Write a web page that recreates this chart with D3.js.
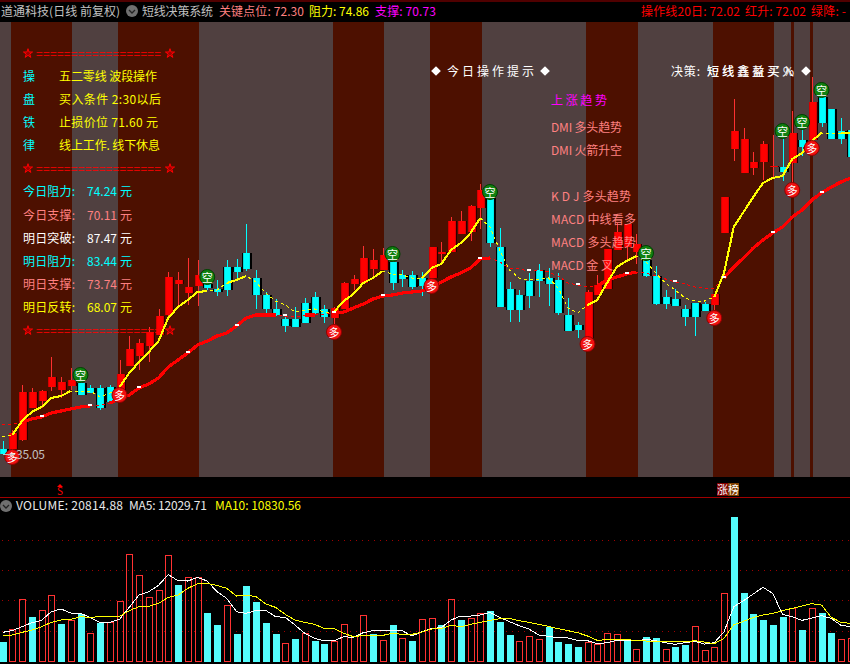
<!DOCTYPE html>
<html><head><meta charset="utf-8">
<script src="https://cdn.jsdelivr.net/npm/d3@7/dist/d3.min.js"></script>
<style>
html,body{margin:0;padding:0;background:#000;overflow:hidden}
svg{display:block}
text{font-family:"Noto Sans CJK SC","DejaVu Sans",sans-serif;font-size:12px;dominant-baseline:central;text-rendering:optimizeSpeed}
</style></head><body><div id="c"></div>
<script>
// ---------- price data (one entry per trading day) ----------
const opens=[35.6,35.6,36.5,39.7,40.4,41.8,41.5,41.9,42.2,41.7,41.7,41.8,41.2,43.9,44.9,45.9,47.0,49.0,52.1,51.2,51.9,52.1,51.6,53.8,53.8,55.2,52.7,51.0,49.6,48.6,48.6,50.2,50.8,49.6,48.7,49.6,52.1,52.2,53.6,53.5,54.3,53.0,53.0,52.7,52.7,55.1,55.3,57.1,57.3,59.7,60.7,55.8,51.6,51.0,52.4,53.5,52.7,52.5,49.0,48.0,46.7,51.0,51.6,55.5,55.8,55.3,54.5,52.9,50.8,50.6,49.6,50.2,50.1,50.0,57.2,65.6,63.2,63.7,64.3,63.8,63.8,64.2,66.5,66.5,70.8,69.6,67.4,67.5];
const highs=[36.4,37.5,42.0,41.7,41.5,44.8,42.8,43.7,42.9,42.0,42.0,42.0,44.5,46.9,46.6,47.8,49.6,53.3,53.3,54.7,54.5,53.5,52.5,54.5,54.6,58.1,53.5,51.3,50.6,49.0,49.8,50.7,51.3,50.0,49.8,52.3,53.0,55.9,55.6,55.7,55.7,53.5,53.4,53.3,55.8,56.3,58.8,59.4,60.0,62.1,62.0,57.7,52.3,51.5,53.2,54.1,53.7,53.2,50.7,48.3,51.5,53.0,55.6,58.2,58.1,57.1,55.3,53.9,51.5,51.6,50.0,50.2,50.3,51.1,60.8,70.6,67.7,65.3,66.4,67.0,68.0,69.4,68.5,72.8,71.5,69.6,68.7,67.5];
const lows=[35.0,35.4,36.4,39.7,39.7,41.4,40.7,41.5,41.0,41.2,39.5,40.2,40.4,43.9,43.5,44.3,47.0,48.9,50.0,50.0,49.9,51.5,50.9,50.9,52.5,53.4,49.6,49.0,48.9,47.3,47.8,48.2,49.0,48.2,48.1,49.6,51.5,52.2,52.7,53.5,51.5,51.8,51.6,50.9,52.7,54.0,55.3,57.1,56.4,57.6,55.8,49.8,48.3,48.3,49.7,50.8,49.9,49.0,47.4,46.7,46.3,51.0,51.6,55.5,54.5,54.1,52.8,50.0,49.6,49.9,47.9,46.9,49.4,49.5,57.2,64.4,63.2,63.0,62.5,62.8,62.4,62.0,64.9,66.5,67.8,66.6,66.1,64.8];
const closes=[35.1,37.2,41.3,41.3,41.4,42.8,42.3,42.5,41.0,41.2,39.7,40.3,43.1,45.6,46.2,47.3,48.9,52.8,52.5,51.8,53.0,51.7,51.3,51.5,53.3,53.6,51.0,49.6,49.0,47.9,47.8,48.2,49.2,48.8,49.7,52.2,52.6,54.7,54.5,55.0,52.2,52.6,51.8,51.9,55.8,55.3,58.4,58.4,59.9,61.5,56.2,49.8,49.5,49.5,50.9,52.4,52.1,49.2,47.4,47.5,51.3,52.0,55.6,57.3,58.1,56.1,52.9,50.1,50.1,49.9,48.8,48.8,49.4,51.1,60.8,67.4,66.6,64.3,66.1,63.9,63.3,67.2,65.8,70.3,68.2,66.6,66.6,64.8];
const yellowLine=[36.8,37.0,38.4,39.3,39.8,40.7,40.9,41.4,41.4,41.4,40.8,41.2,41.8,43.2,44.3,45.3,46.4,48.7,49.8,50.5,51.3,51.4,51.5,52.2,52.5,52.9,52.3,51.2,50.4,50.0,49.3,49.5,49.6,49.3,49.3,50.4,51.1,52.2,52.7,53.4,53.1,53.0,52.7,52.7,53.7,54.1,55.5,56.2,57.2,58.7,57.8,55.5,53.5,52.7,52.5,52.6,52.7,51.7,49.7,49.2,50.0,50.5,52.2,53.8,54.4,54.9,54.3,53.2,52.2,51.5,50.7,50.4,50.4,50.8,53.2,57.8,59.3,60.8,62.2,62.7,62.9,64.6,65.2,66.4,67.2,67.1,67.2,67.2];
const redLine=[38.0,38.1,38.3,38.6,38.8,39.2,39.4,39.6,39.8,39.9,40.0,40.2,40.6,41.0,41.7,42.1,42.7,43.8,44.5,45.2,46.0,46.4,46.9,47.2,47.9,48.7,49.0,49.0,49.0,48.9,48.8,49.0,49.0,49.1,49.2,49.3,49.7,50.1,50.6,50.9,51.0,51.2,51.3,51.4,51.8,52.3,52.8,53.2,53.7,54.6,54.7,54.3,53.7,53.6,53.4,53.5,53.3,52.9,52.2,52.0,51.8,51.9,52.5,52.8,53.1,53.3,53.2,52.9,52.6,52.3,52.1,51.8,51.7,51.7,52.7,53.8,54.7,55.7,56.5,57.2,57.8,58.8,59.5,60.5,61.2,61.8,62.3,62.7];
const yellowThick=[[1,7],[12,21],[23,25],[34,39],[43,49],[60,65],[73,84],[86,87]];
const redThick=[[2,9],[11,28],[31,32],[34,50],[61,65],[74,87]];
const upBands=[[1,7],[12,20],[34,39],[44,49],[60,65],[73,79],[81,81],[83,83]];
const buySignals=[1,12,34,44,60,73,81,83];
const buyPrice=[34.8,41.0,47.3,51.9,46.1,48.7,61.5,65.7];
const sellSignals=[8,21,40,50,66,80,82,84];
const sellPrice=[43.0,52.8,55.1,61.3,55.2,67.4,68.3,71.5];
const flagDays=[4,9,14,19,24,29,34,39,49,54,59,64,69,74,79,84];
// ---------- volume data ----------
const volume=[5900,9700,18700,13400,15400,19900,11300,12400,14400,8500,11600,11800,18100,32200,25900,19300,21400,31900,23000,25300,25300,14600,11000,16900,8300,22700,17900,11600,8300,5500,6800,8500,6200,5300,6100,11200,7700,13900,8300,6400,11000,7000,6200,12700,13000,11000,18700,12500,13000,14500,15200,11900,8000,6100,7600,6700,10500,5900,5300,4400,5800,5300,8500,8200,6700,3700,7400,7100,3700,4400,5000,10600,3400,4300,20500,43400,20600,14300,12500,11000,13400,16000,9500,16000,14600,8600,6700,7000];
const volumeUpDays=[1,2,4,5,7,9,11,12,13,14,15,16,17,19,20,23,29,31,34,35,36,37,39,41,43,44,46,48,49,53,54,55,60,61,62,63,65,68,71,72,73,74,81,83,86,87];
const ma5=[8800,9300,10500,11700,12400,15000,15800,14600,14500,13300,11700,11800,12700,16300,20000,21000,22900,26100,24300,24200,25300,24200,21000,19000,15000,14500,15400,15400,13500,13300,11000,8500,7000,6300,6300,7500,7300,8700,9300,9300,9300,9300,7700,9000,10000,10200,12500,13700,13700,14000,14800,13300,12000,10800,9800,8000,7600,7200,7100,6400,6300,5400,5700,6400,6500,6200,6700,6300,5700,5200,5700,6100,5300,5700,9000,16500,18300,20300,22300,20500,14200,13500,12400,13100,13800,13000,10900,10500];
const ma10=[7700,8000,8800,9500,10500,11800,12500,12700,13500,13300,13500,13600,13600,15300,16500,16600,17500,19300,20000,22000,23400,23500,22900,22000,19700,20000,19500,17300,16300,14200,12500,11800,11200,10000,10000,8500,7500,7900,7900,7900,8500,8200,8200,8900,9800,9900,10900,10500,11200,11800,12400,12900,13000,12300,11800,11200,10600,9900,9300,8700,7700,6400,6600,6700,6700,6300,6200,6100,6000,6100,5900,6300,5900,5400,7000,11100,12100,13300,14000,14500,15300,16000,16700,17400,17000,13300,11800,11500];
const volumeGrid=[9100,18400,27400,36400];
// ---------- texts ----------
const titleName="道通科技(日线 前复权)", titleSystem="短线决策系统";
const headerLabels=["关键点位: 72.30","阻力: 74.86","支撑: 70.73","操作线20日: 72.02","红升: 72.02","绿降: -"];
const planKeys=["操","盘","铁","律"];
const planTexts=["五二零线 波段操作","买入条件  2:30以后","止损价位  71.60 元","线上工作. 线下休息"];
const levelNames=["今日阻力:","今日支撑:","明日突破:","明日阻力:","明日支撑:","明日反转:"];
const levelValues=["74.24","70.11","87.47","83.44","73.74","68.07"];
const hintTitle="今日操作提示", decisionHead="决策:", decisionA="短线鑫盈买入", decisionB="短线鑫益买%";
const trendTexts=["上涨趋势","DMI 多头趋势","DMI 火箭升空","K D J 多头趋势","MACD 中线看多","MACD 多头趋势","MACD 金 叉"];
const lowLabel="35.05";
const volLabels=["VOLUME: 20814.88","MA5: 12029.71","MA10: 10830.56"];

const W=850,H=664,n=opens.length;
const svg=d3.select("#c").append("svg").attr("width",W).attr("height",H);
const x=d3.scaleLinear().domain([0,87]).range([2.5,850.75]);
const y=d3.scaleLinear().domain([35,78]).range([455,25]);
const yv=d3.scaleLinear().domain([0,43400]).range([661.7,517]);
const defs=svg.append("defs");
function grad(id,stops){const g=defs.append("linearGradient").attr("id",id);
  stops.forEach(s=>g.append("stop").attr("offset",s[0]).attr("stop-color",s[1]));}
grad("gr",[[0,"#c00000"],[.2,"#ff0000"],[.8,"#ff0000"],[1,"#c80000"]]);
grad("gc",[[0,"#00c8c8"],[.2,"#00ffff"],[.85,"#00ffff"],[1,"#00d8d8"]]);

// frame
svg.append("rect").attr("width",W).attr("height",H).attr("fill","#000");
svg.append("line").attr("x1",0).attr("x2",W).attr("y1",1).attr("y2",1).attr("stroke","#a00000");
const plotTop=22,plotBottom=477;
svg.append("rect").attr("x",0).attr("y",plotTop).attr("width",W).attr("height",plotBottom-plotTop).attr("fill","#504040");
svg.append("g").selectAll("rect").data(upBands).join("rect")
 .attr("x",d=>x(d[0])-1.3).attr("width",d=>x(d[1])-x(d[0])+2.6)
 .attr("y",plotTop).attr("height",plotBottom-plotTop).attr("fill","#4d1000").attr("shape-rendering","crispEdges");
svg.append("line").attr("x1",0).attr("x2",W).attr("y1",497.5).attr("y2",497.5).attr("stroke","#a00000");

// candles
const cg=svg.append("g").attr("shape-rendering","crispEdges");
const idx=d3.range(n), isUp=i=>closes[i]>=opens[i];
const bodyTop=i=>Math.min(y(opens[i]),y(closes[i]));
const bodyH=i=>Math.max(1,Math.abs(y(opens[i])-y(closes[i])));
cg.selectAll(".w").data(idx).join("line")
 .attr("x1",i=>Math.round(x(i))+.5).attr("x2",i=>Math.round(x(i))+.5)
 .attr("y1",i=>y(highs[i])).attr("y2",i=>y(lows[i]))
 .attr("stroke",i=>isUp(i)?"#ff3030":"#00ffff");
cg.selectAll(".s").data(idx).join("rect")
 .attr("x",i=>Math.round(x(i))-(isUp(i)?3:4)).attr("width",i=>isUp(i)?9:10)
 .attr("y",bodyTop).attr("height",bodyH).attr("fill",i=>isUp(i)?"#280000":"#000");
cg.selectAll(".b").data(idx).join("rect")
 .attr("x",i=>Math.round(x(i))-3).attr("width",i=>isUp(i)?8:7)
 .attr("y",bodyTop).attr("height",bodyH)
 .attr("fill",i=>isUp(i)?"url(#gr)":"url(#gc)");

// moving lines: thin dashed everywhere, thick on marked runs
const lg=svg.append("g");
function drawLine(vals,thick,color,w){
  const ln=d3.line().x(i=>x(i)).y(i=>y(vals[i]));
  lg.append("path").attr("d",ln(idx)).attr("fill","none").attr("stroke",color).attr("stroke-width",1).attr("stroke-dasharray","3 3").attr("shape-rendering","crispEdges");
  thick.forEach(r=>lg.append("path").attr("d",ln(d3.range(r[0],r[1]+1))).attr("fill","none")
    .attr("stroke",color).attr("stroke-width",w).attr("shape-rendering","crispEdges"));
}
drawLine(redLine,redThick,"#ff0000",3.2);
drawLine(yellowLine,yellowThick,"#ffff00",2.1);
// small white flags on the red line
lg.selectAll(".f").data(flagDays).join("rect")
 .attr("x",i=>x(i)-2).attr("y",i=>y(redLine[i])-2.5).attr("width",4).attr("height",2)
 .attr("fill","#fff").attr("shape-rendering","crispEdges");

// signals
function markers(days,prices,fill,ring,glyph){
  const g=svg.append("g").selectAll("g").data(days).join("g")
    .attr("transform",(d,k)=>`translate(${x(d)},${y(prices[k])})`);
  g.append("circle").attr("r",7.5).attr("fill",fill).attr("stroke",ring);
  g.append("text").attr("text-anchor","middle").attr("y",-.5).attr("fill","#fff").style("font-size","11px").text(glyph);
}
markers(buySignals,buyPrice,"#f01010","#900000","多");
markers(sellSignals,sellPrice,"#108010","#004000","空");

// text helper
const tg=svg.append("g");
function T(s,x0,x1,yc,color,size){
  const t=tg.append("text").attr("x",x0).attr("y",yc-.8).attr("fill",color).text(s);
  if(x1) t.attr("textLength",x1-x0).attr("lengthAdjust","spacing");
  if(size) t.style("font-size",size+"px");
  return t;
}
function chevron(cx,cy){
  tg.append("circle").attr("cx",cx).attr("cy",cy).attr("r",6).attr("fill","#707070");
  tg.append("path").attr("d",`M${cx-3},${cy-1}L${cx},${cy+2}L${cx+3},${cy-1}`).attr("fill","none").attr("stroke","#222").attr("stroke-width",1.3);
}
T(titleName,1,120,11,"#c0c0c0");
chevron(132,11);
T(titleSystem,142,213,11,"#c0c0c0");
const hdrCol=["#ff8080","#ffff00","#ff00ff","#ff0000","#ff0000","#ff0000"];
const hdrX=[[219,304],[309,369],[375,436],[641,740],[745,806],[811,846]];
headerLabels.forEach((s,k)=>T(s,hdrX[k][0],hdrX[k][1],11,hdrCol[k]));

function starRow(yc){
  [28,170].forEach(cx=>{
    const star=d3.symbol().type(d3.symbolStar).size(26)();
    tg.append("path").attr("d",star).attr("transform",`translate(${cx},${yc+.5})`).attr("fill","#a00000").attr("stroke","#ff0000");
  });
  T("==================",36,161,yc,"#ff0000");
}
[53,168,330].forEach(starRow);
planKeys.forEach((s,k)=>{const yc=[76.5,99.5,122.5,145][k];
  T(s,23,null,yc,"#00ffff");
  T(planTexts[k],59,[157,161,158,160][k],yc,"#ffff00");
});
const lvlCol=["#00ffff","#ff8080","#ffffff","#00ffff","#ff8080","#ffff00"];
levelNames.forEach((s,k)=>{const yc=[191.5,215,238,261,284,307][k];
  T(s,23,75,yc,lvlCol[k]);
  T(levelValues[k],87,117,yc,lvlCol[k]);
  T("元",120,null,yc,lvlCol[k]);
});
function diamond(cx,cy){tg.append("path").attr("d",d3.symbol().type(d3.symbolDiamond2).size(60)()).attr("transform",`translate(${cx},${cy})`).attr("fill","#fff");}
diamond(436,71);diamond(545,71);diamond(806,71);
T(hintTitle,447,534,71,"#fff");
T(decisionHead,671,700,71,"#fff");
T(decisionA,707,794,71,"#fff");
T(decisionB,707,794,71,"#fff");
const trendCol=["#ff00ff","#ff8080","#ff8080","#ff8080","#ff8080","#ff8080","#ff8080"];
const trendX=[607,622,622,631,636,636,613];
trendTexts.forEach((s,k)=>T(s,551,trendX[k],[100,127,150,196,219,242,265][k],trendCol[k]));
T(lowLabel,16,45,454.5,"#c0c0c0");
tg.append("line").attr("x1",3).attr("x2",15).attr("y1",454.5).attr("y2",454.5).attr("stroke","#c0c0c0");

// bottom event tags
T("S",57,null,491,"#ff0000",10);
tg.append("path").attr("d","M60,484L63,487L57,487Z").attr("fill","#ff0000");
tg.append("rect").attr("x",717).attr("y",483).attr("width",11).attr("height",13).attr("fill","#800000");
tg.append("rect").attr("x",728).attr("y",483).attr("width",11).attr("height",13).attr("fill","#804000");
T("涨",717,null,490,"#fff",11);T("榜",728,null,490,"#fff",11);

// volume panel
chevron(6,506);
const vg=svg.append("g");
vg.selectAll(".g").data(volumeGrid).join("line")
 .attr("x1",2).attr("x2",W).attr("y1",d=>Math.round(yv(d))+.5).attr("y2",d=>Math.round(yv(d))+.5)
 .attr("stroke","#a00000").attr("stroke-dasharray","1 5").attr("shape-rendering","crispEdges");
const upSet=new Set(volumeUpDays);
vg.selectAll(".v").data(idx).join("rect")
 .attr("shape-rendering","crispEdges")
 .attr("x",i=>Math.round(x(i))-3+(upSet.has(i)?.5:0)).attr("width",i=>upSet.has(i)?6:7)
 .attr("y",i=>yv(volume[i])).attr("height",i=>661.7-yv(volume[i]))
 .attr("fill",i=>upSet.has(i)?"none":"#54fcfc").attr("stroke",i=>upSet.has(i)?"#ff3232":"none");
const lv=a=>d3.line().x(i=>x(i)).y(i=>yv(a[i]))(idx);
vg.append("path").attr("d",lv(ma5)).attr("fill","none").attr("stroke","#ffffff").attr("stroke-width",1).attr("shape-rendering","crispEdges");
vg.append("path").attr("d",lv(ma10)).attr("fill","none").attr("stroke","#ffff00").attr("stroke-width",1).attr("shape-rendering","crispEdges");
T(volLabels[0],16,123,505.5,"#e8e8e8");
T(volLabels[1],129,207,505.5,"#e8e8e8");
T(volLabels[2],215,301,505.5,"#ffff00");
</script></body></html>
